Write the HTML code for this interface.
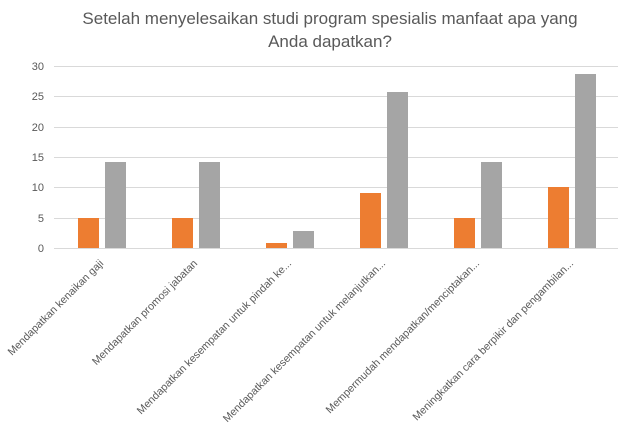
<!DOCTYPE html>
<html><head><meta charset="utf-8"><style>html,body{margin:0;padding:0;background:#fff;}svg{display:block;}</style></head>
<body>
<svg width="629" height="426" xmlns="http://www.w3.org/2000/svg" font-family="Liberation Sans, sans-serif">
<rect width="629" height="426" fill="#fff"/>
<text x="330" y="24" font-size="17" fill="#595959" text-anchor="middle">Setelah menyelesaikan studi program spesialis manfaat apa yang</text>
<text x="330" y="47" font-size="17" fill="#595959" text-anchor="middle">Anda dapatkan?</text>
<g stroke="#d9d9d9" stroke-width="1">
<line x1="54" x2="618" y1="66.5" y2="66.5"/>
<line x1="54" x2="618" y1="96.5" y2="96.5"/>
<line x1="54" x2="618" y1="127.5" y2="127.5"/>
<line x1="54" x2="618" y1="157.5" y2="157.5"/>
<line x1="54" x2="618" y1="187.5" y2="187.5"/>
<line x1="54" x2="618" y1="218.5" y2="218.5"/>
<line x1="54" x2="618" y1="248.5" y2="248.5"/>
</g>
<g font-size="11" fill="#595959" text-anchor="end">
<text x="44" y="70">30</text><text x="44" y="100">25</text><text x="44" y="131">20</text>
<text x="44" y="161">15</text><text x="44" y="191">10</text><text x="44" y="222">5</text><text x="44" y="252">0</text>
</g>
<g fill="#ed7d31">
<rect x="78" y="218" width="21" height="30"/>
<rect x="172" y="218" width="21" height="30"/>
<rect x="266" y="243" width="21" height="5"/>
<rect x="360" y="193" width="21" height="55"/>
<rect x="454" y="218" width="21" height="30"/>
<rect x="548" y="187" width="21" height="61"/>
</g>
<g fill="#a5a5a5">
<rect x="105" y="162" width="21" height="86"/>
<rect x="199" y="162" width="21" height="86"/>
<rect x="293" y="231" width="21" height="17"/>
<rect x="387" y="92" width="21" height="156"/>
<rect x="481" y="162" width="21" height="86"/>
<rect x="575" y="74" width="21" height="174"/>
</g>
<g font-size="10.7" fill="#595959" text-anchor="end">
<text transform="translate(104,264) rotate(-45)">Mendapatkan kenaikan gaji</text>
<text transform="translate(198,264) rotate(-45)">Mendapatkan promosi jabatan</text>
<text transform="translate(292,264) rotate(-45)">Mendapatkan kesempatan untuk pindah ke...</text>
<text transform="translate(386,264) rotate(-45)">Mendapatkan kesempatan untuk melanjutkan...</text>
<text transform="translate(480,264) rotate(-45)">Mempermudah mendapatkan/menciptakan...</text>
<text transform="translate(574,264) rotate(-45)">Meningkatkan cara berpikir dan pengambilan...</text>
</g>
</svg>
</body></html>
